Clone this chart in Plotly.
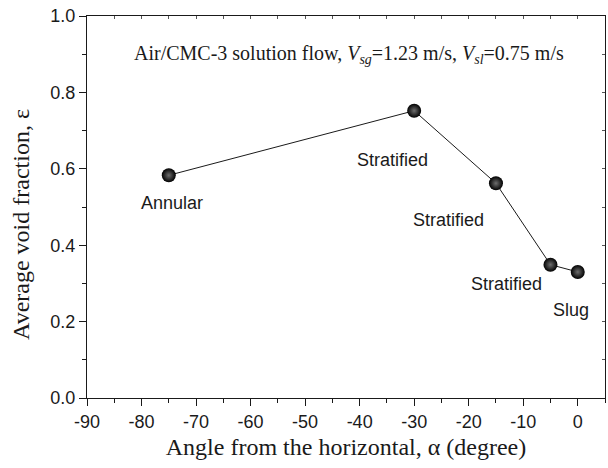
import plotly.graph_objects as go

angles = [-75, -30, -15, -5, 0]
void_fraction = [0.583, 0.752, 0.562, 0.349, 0.330]
regimes = ["Annular", "Stratified", "Stratified", "Stratified", "Slug"]

x_ticks = [-90, -80, -70, -60, -50, -40, -30, -20, -10, 0]
x_tick_labels = ["-90", "-80", "-70", "-60", "-50", "-40", "-30", "-20", "-10", "0"]
y_ticks = [0.0, 0.2, 0.4, 0.6, 0.8, 1.0]
y_tick_labels = ["0.0", "0.2", "0.4", "0.6", "0.8", "1.0"]

SANS = "Liberation Sans, Arial, sans-serif"
SERIF = "Liberation Serif, Times New Roman, serif"
INK = "#1a1a1a"

fig = go.Figure()
fig.add_trace(go.Scatter(
    x=angles, y=void_fraction, mode="lines+markers",
    line=dict(color=INK, width=1),
    marker=dict(size=14, color="#000000",
                gradient=dict(type="radial", color="#6e6e6e"),
                line=dict(width=0)),
    showlegend=False, hoverinfo="skip",
))

# regime labels: pixel offsets from their data points (dx right, dy down)
label_offsets = [(3, 28), (-22, 49), (-47, 37), (-44, 19), (-7, 38)]
for xa, ya, lab, (dx, dy) in zip(angles, void_fraction, regimes, label_offsets):
    fig.add_annotation(x=xa, y=ya, text=lab, showarrow=False,
                       xshift=dx, yshift=-dy, xanchor="center", yanchor="middle",
                       font=dict(family=SANS, size=18, color=INK))

fig.add_annotation(
    x=0.505, y=0.9, xref="paper", yref="paper", showarrow=False,
    xanchor="center", yanchor="middle",
    text="Air/CMC-3 solution flow, <i>V<sub>sg</sub></i>=1.23 m/s, <i>V<sub>sl</sub></i>=0.75 m/s",
    font=dict(family=SERIF, size=20, color=INK),
)

# y-axis title (placed as rotated annotation to match reference position)
fig.add_annotation(
    x=-0.128, y=0.455, xref="paper", yref="paper", showarrow=False,
    xanchor="center", yanchor="middle", textangle=-90,
    text="Average void fraction, ε",
    font=dict(family=SERIF, size=24, color=INK),
)

common = dict(showgrid=False, zeroline=False, linecolor=INK, linewidth=1.2,
              tickcolor=INK, tickwidth=1.2,
              tickfont=dict(family=SANS, size=18, color=INK))

fig.update_layout(
    width=608, height=468,
    margin=dict(l=87, r=3, t=16, b=70),
    paper_bgcolor="white", plot_bgcolor="white",
    xaxis=dict(range=[-90, 5], tickvals=x_ticks, ticktext=x_tick_labels,
               ticks="outside", ticklen=7,
               minor=dict(dtick=5, tick0=0, ticks="outside", ticklen=4, tickcolor=INK),
               title=dict(text="Angle from the horizontal, α (degree)",
                          font=dict(family=SERIF, size=24, color=INK), standoff=7),
               mirror=True, **common),
    yaxis=dict(range=[0, 1.0], tickvals=y_ticks, ticktext=y_tick_labels,
               ticks="outside", ticklen=7,
               minor=dict(dtick=0.1, tick0=0, ticks="outside", ticklen=4, tickcolor=INK),
               mirror=True, **common),
    xaxis2=dict(range=[-90, 5], overlaying="x", side="top", anchor="y",
                tickvals=list(range(-90, 5, 5)), ticks="inside", ticklen=3,
                showticklabels=False, showgrid=False, zeroline=False, tickcolor="#555"),
    yaxis2=dict(range=[0, 1.0], overlaying="y", side="right", anchor="x",
                tickvals=[i / 10 for i in range(11)], ticks="inside", ticklen=3,
                showticklabels=False, showgrid=False, zeroline=False, tickcolor="#555"),
)
fig.add_trace(go.Scatter(x=[None], y=[None], xaxis="x2", yaxis="y2", showlegend=False))

fig.write_html("out.html")
